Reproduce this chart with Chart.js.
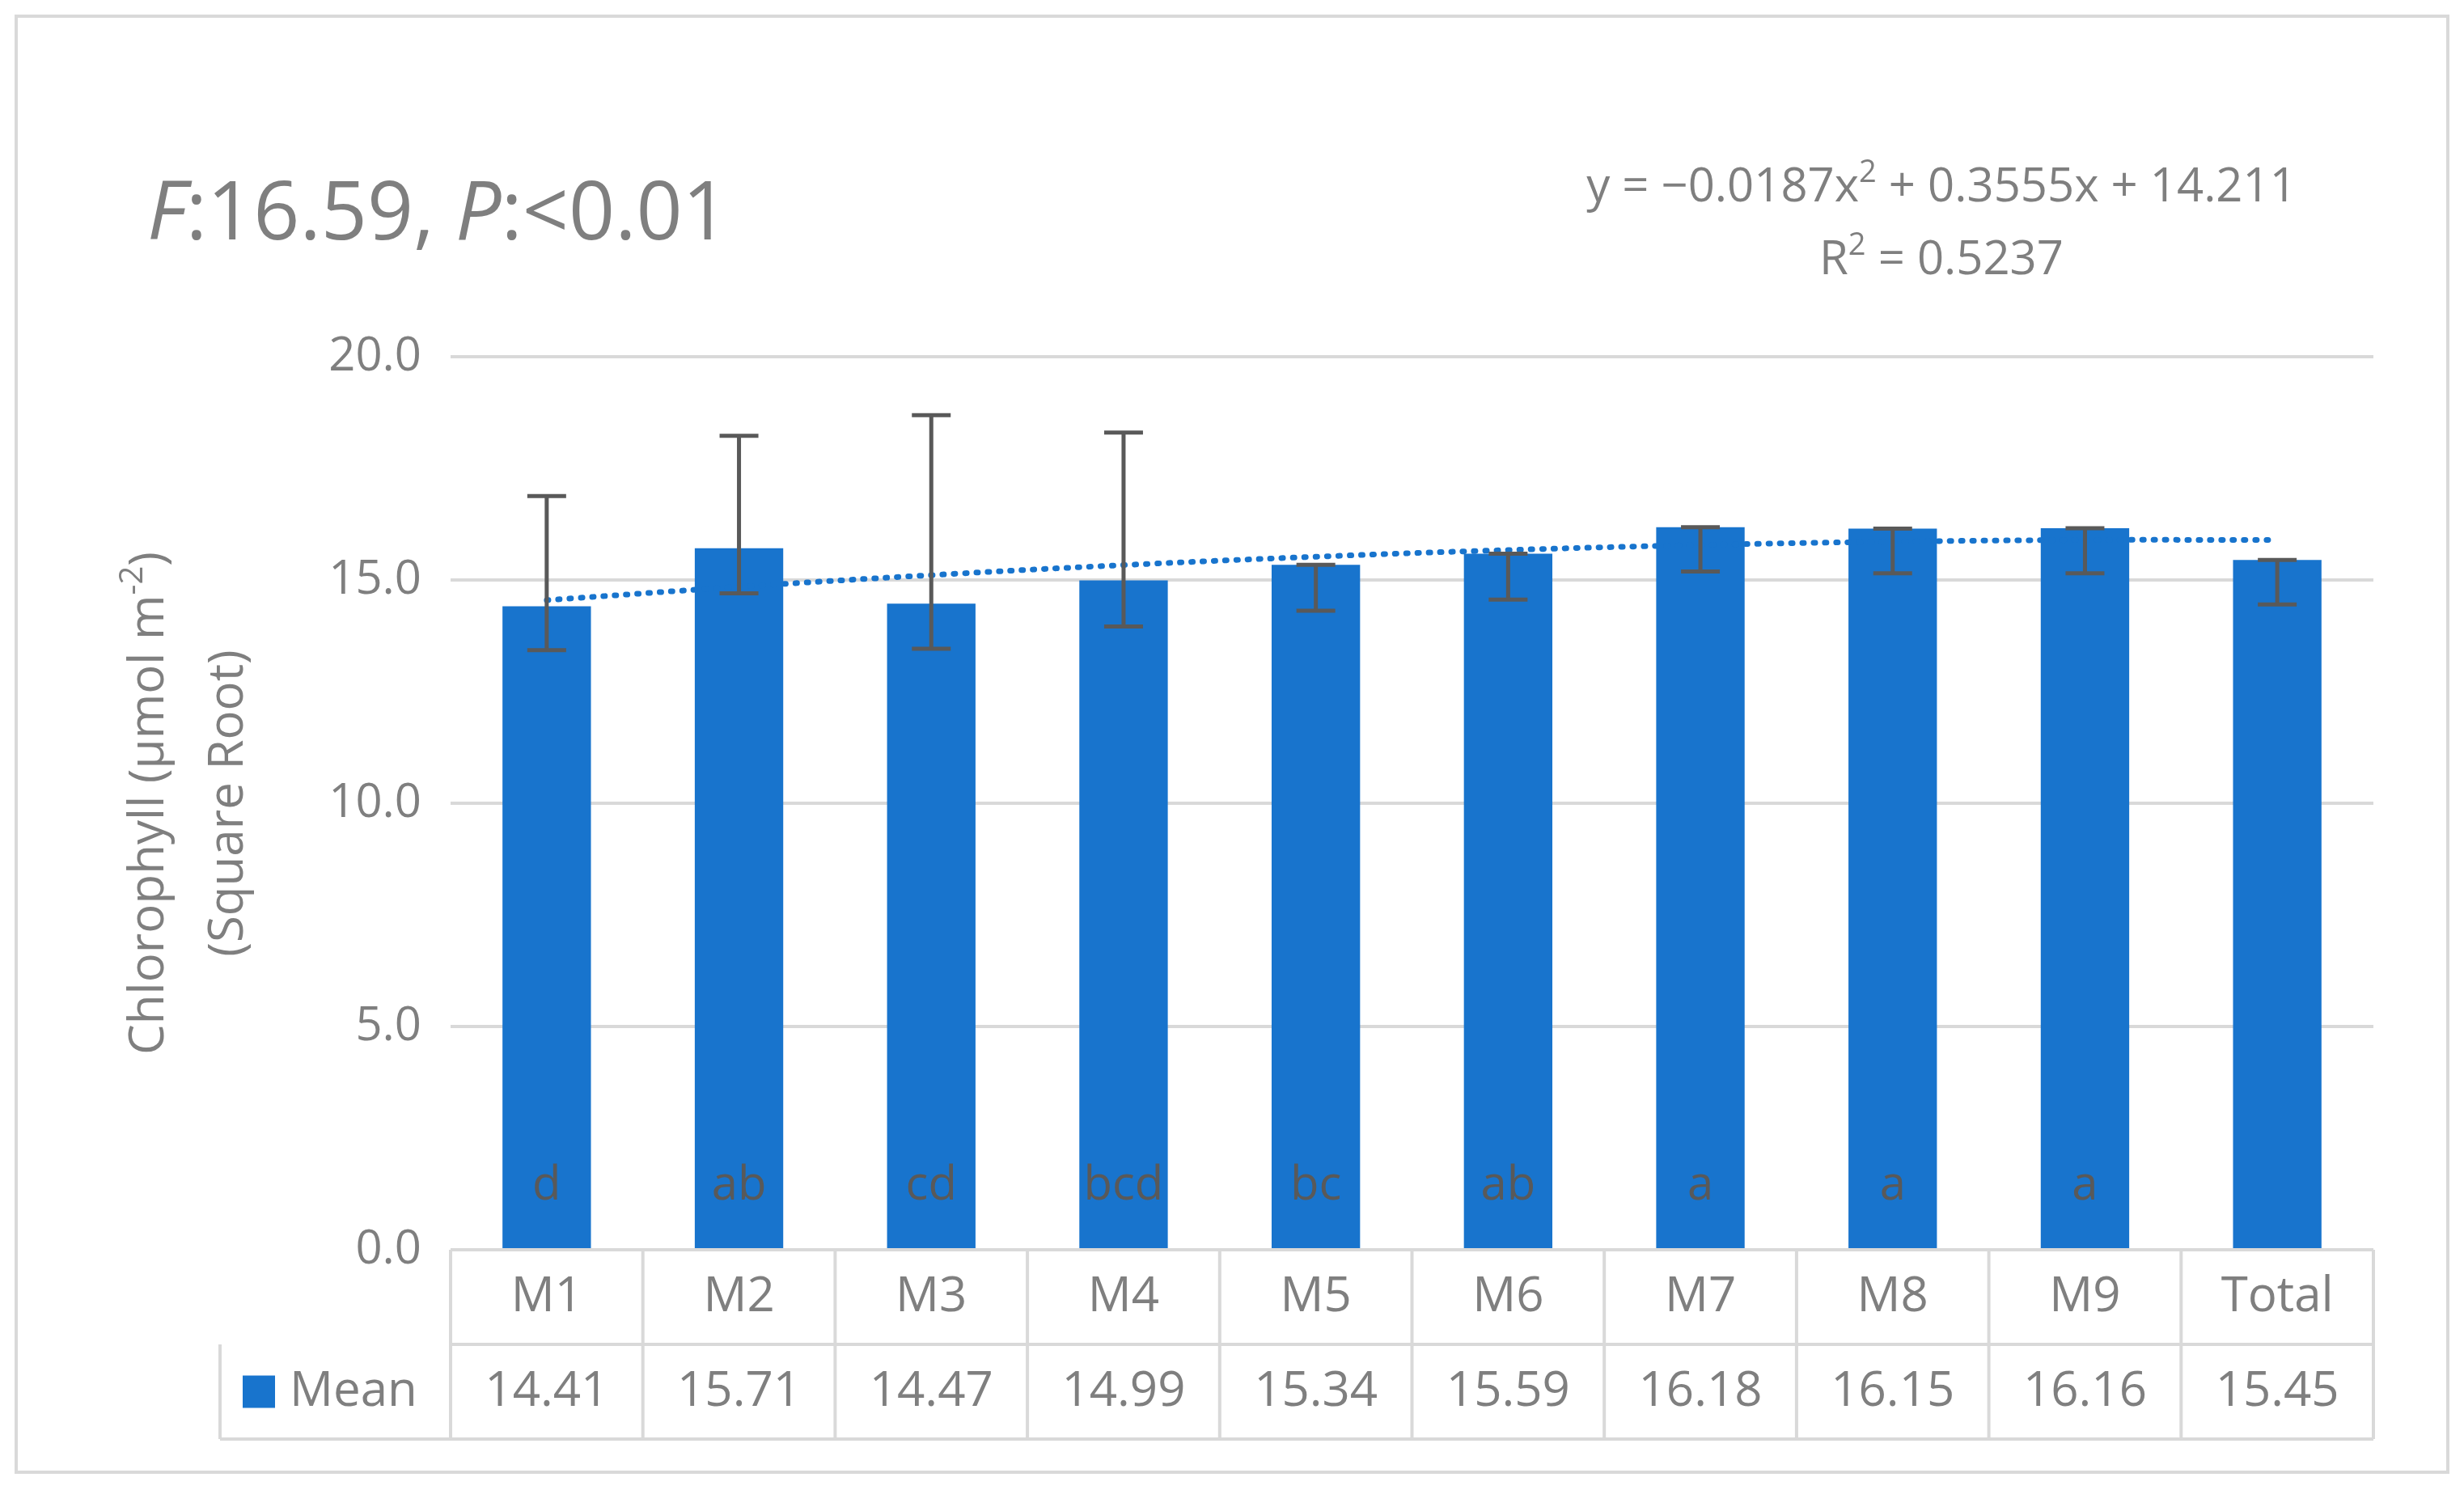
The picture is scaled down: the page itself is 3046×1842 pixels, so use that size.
<!DOCTYPE html>
<html lang="en">
<head>
    <meta charset="UTF-8">
    <title>Chlorophyll Means</title>
    <script src="https://cdn.jsdelivr.net/npm/chart.js"></script>
    <style>
        body { margin: 0; background: #fff; }
        canvas { display: block; }
    </style>
</head>
<body>
    <canvas id="chlChart" width="3046" height="1842"></canvas>
    <script>
        // data
        const categories = ['M1', 'M2', 'M3', 'M4', 'M5', 'M6', 'M7', 'M8', 'M9', 'Total'];
        const means = [14.41, 15.71, 14.47, 14.99, 15.34, 15.59, 16.18, 16.15, 16.16, 15.45];
        const errUpper = [16.88, 18.23, 18.69, 18.30, 15.34, 15.59, 16.18, 16.15, 16.16, 15.45];
        const errLower = [13.43, 14.70, 13.46, 13.96, 14.31, 14.56, 15.19, 15.15, 15.15, 14.45];
        const letters = ['d', 'ab', 'cd', 'bcd', 'bc', 'ab', 'a', 'a', 'a', ''];
        const trendValues = [14.548, 14.847, 15.109, 15.334, 15.521, 15.671, 15.783, 15.858, 15.896, 15.896];
        const yTicks = [0, 5, 10, 15, 20];

        const BLUE = '#1874cd';
        const GREY = '#7f7f7f';
        const FONT = '"Open Sans", Calibri, sans-serif';

        const extras = {
            id: 'extras',
            afterDatasetsDraw(chart) {
                const c = chart.ctx, x = chart.scales.x, y = chart.scales.y;
                const area = chart.chartArea;
                c.save();
                // error bars
                c.strokeStyle = '#595959';
                c.lineWidth = 5;
                means.forEach((m, i) => {
                    const px = x.getPixelForValue(i);
                    const t = y.getPixelForValue(errUpper[i]);
                    const b = y.getPixelForValue(errLower[i]);
                    c.beginPath();
                    c.moveTo(px, t); c.lineTo(px, b);
                    c.moveTo(px - 24, t); c.lineTo(px + 24, t);
                    c.moveTo(px - 24, b); c.lineTo(px + 24, b);
                    c.stroke();
                });
                // letters inside bars
                c.fillStyle = '#595959';
                c.font = '58px ' + FONT;
                c.textAlign = 'center';
                c.textBaseline = 'middle';
                letters.forEach((l, i) => c.fillText(l, x.getPixelForValue(i), 1466));

                // data table
                const step = (area.right - area.left) / categories.length;
                const r0 = area.bottom, r1 = r0 + 117, r2 = r1 + 117;
                const tl = 272;
                c.strokeStyle = '#d9d9d9';
                c.lineWidth = 4;
                c.beginPath();
                c.moveTo(area.left, r1); c.lineTo(area.right, r1);
                c.moveTo(tl, r1); c.lineTo(tl, r2);
                c.moveTo(tl, r2); c.lineTo(area.right, r2);
                for (let i = 0; i <= categories.length; i++) {
                    const gx = area.left + i * step;
                    c.moveTo(gx, r0); c.lineTo(gx, r2);
                }
                c.stroke();
                c.fillStyle = GREY;
                c.font = '60px ' + FONT;
                categories.forEach((cat, i) => {
                    const cx = x.getPixelForValue(i);
                    c.fillText(cat, cx, (r0 + r1) / 2);
                    c.fillText(means[i].toFixed(2), cx, (r1 + r2) / 2);
                });
                c.fillStyle = BLUE;
                c.fillRect(300, (r1 + r2) / 2 - 20, 40, 40);
                c.fillStyle = GREY;
                c.textAlign = 'left';
                c.fillText('Mean', 358, (r1 + r2) / 2);

                // title with italic letters
                c.font = 'italic 100px ' + FONT;
                let tx = 182;
                const ty = 268;
                const parts = [['F', true], [':16.59, ', false], ['P', true], [':<0.01', false]];
                parts.forEach(([s, it]) => {
                    c.font = (it ? 'italic ' : '') + '100px ' + FONT;
                    c.fillText(s, tx, ty);
                    tx += c.measureText(s).width;
                });

                // equation
                c.font = '58px ' + FONT;
                c.textAlign = 'center';
                const ex = 2400;
                const e1 = 'y = −0.0187x', e2 = ' + 0.3555x + 14.211';
                const w1 = c.measureText(e1).width, w2 = c.measureText(e2).width;
                c.font = '38px ' + FONT;
                const ws = c.measureText('2').width;
                let sx = ex - (w1 + ws + w2) / 2;
                c.textAlign = 'left';
                c.font = '58px ' + FONT;
                c.fillText(e1, sx, 232);
                c.font = '38px ' + FONT;
                c.fillText('2', sx + w1, 214);
                c.font = '58px ' + FONT;
                c.fillText(e2, sx + w1 + ws, 232);
                const r1t = 'R', r2t = ' = 0.5237';
                const q1 = c.measureText(r1t).width, q2 = c.measureText(r2t).width;
                sx = ex - (q1 + ws + q2) / 2;
                c.fillText(r1t, sx, 322);
                c.font = '38px ' + FONT;
                c.fillText('2', sx + q1, 304);
                c.font = '58px ' + FONT;
                c.fillText(r2t, sx + q1 + ws, 322);

                // y axis title (rotated, two lines)
                c.translate(185, (area.top + area.bottom) / 2);
                c.rotate(-Math.PI / 2);
                c.font = '60px ' + FONT;
                const l1a = 'Chlorophyll (µmol m', l1b = '-2', l1c = ')';
                const a = c.measureText(l1a).width, cc = c.measureText(l1c).width;
                c.font = '40px ' + FONT;
                const b = c.measureText(l1b).width;
                let lx = -(a + b + cc) / 2;
                c.font = '60px ' + FONT;
                c.fillText(l1a, lx, 0);
                c.font = '40px ' + FONT;
                c.fillText(l1b, lx + a, -20);
                c.font = '60px ' + FONT;
                c.fillText(l1c, lx + a + b, 0);
                c.textAlign = 'center';
                c.fillText('(Square Root)', 0, 98);
                c.restore();

                // outer frame
                c.save();
                c.strokeStyle = '#d9d9d9';
                c.lineWidth = 4;
                c.strokeRect(20, 20, 3006, 1800);
                c.restore();
            }
        };

        const ctx = document.getElementById('chlChart').getContext('2d');
        new Chart(ctx, {
            data: {
                labels: categories,
                datasets: [
                    {
                        type: 'line',
                        label: 'Trend',
                        data: trendValues,
                        borderColor: BLUE,
                        borderWidth: 7,
                        borderDash: [2, 12],
                        borderCapStyle: 'round',
                        pointRadius: 0,
                        tension: 0.4,
                        fill: false,
                        order: 0
                    },
                    {
                        type: 'bar',
                        label: 'Mean',
                        data: means,
                        backgroundColor: BLUE,
                        categoryPercentage: 1,
                        barPercentage: 0.46,
                        order: 1
                    }
                ]
            },
            options: {
                responsive: false,
                devicePixelRatio: 1,
                animation: false,
                layout: { padding: { top: 441, right: 112, bottom: 297, left: 0 } },
                plugins: { legend: { display: false }, tooltip: { enabled: false } },
                scales: {
                    x: { display: false },
                    y: {
                        min: 0,
                        max: 20,
                        afterFit: s => { s.width = 557; },
                        afterBuildTicks: s => { s.ticks = yTicks.map(v => ({ value: v })); },
                        border: { display: false },
                        grid: { color: '#d9d9d9', lineWidth: 4, drawTicks: false },
                        ticks: {
                            color: GREY,
                            padding: 36,
                            font: { family: FONT, size: 58 },
                            callback: v => v.toFixed(1)
                        }
                    }
                }
            },
            plugins: [extras]
        });
    </script>
</body>
</html>
